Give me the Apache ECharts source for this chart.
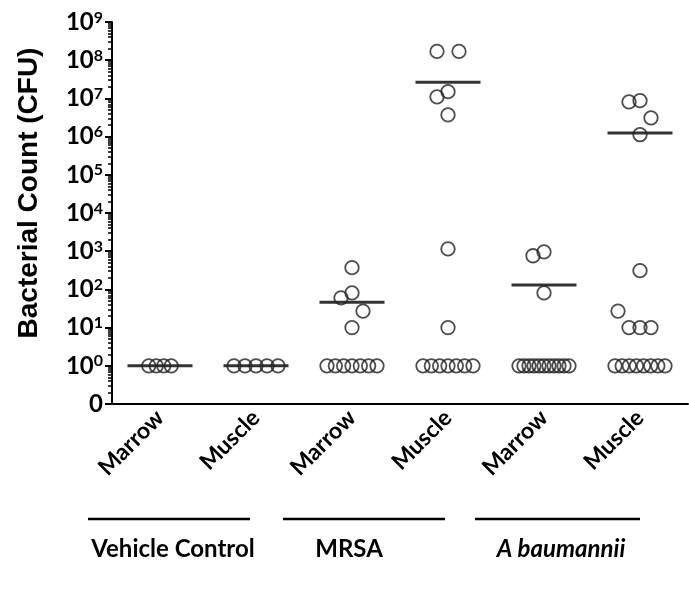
<!DOCTYPE html>
<html><head><meta charset="utf-8">
<script src="https://cdn.jsdelivr.net/npm/echarts@6/dist/echarts.min.js"></script>
<style>html,body{margin:0;padding:0;background:#fff}#c{width:689px;height:590px}</style>
</head><body><div id="c"></div>
<script>
// ---- data ----
const categories = ['Marrow', 'Muscle', 'Marrow', 'Muscle', 'Marrow', 'Muscle'];
const groupNames = ['Vehicle Control', 'MRSA', 'A baumannii'];
const vcMarrow = [1, 1, 1, 1];
const vcMuscle = [1, 1, 1, 1, 1];
const mrsaMarrow = [370, 81, 60, 27, 10, 1, 1, 1, 1, 1, 1, 1];
const mrsaMuscle = [1.7e8, 1.7e8, 1.5e7, 1.1e7, 3.7e6, 1150, 10, 1, 1, 1, 1, 1, 1, 1];
const abMarrow = [960, 760, 81, 1, 1, 1, 1, 1, 1, 1, 1, 1, 1, 1];
const abMuscle = [8.7e6, 8.1e6, 3.1e6, 1.12e6, 310, 27, 10, 10, 10, 1, 1, 1, 1, 1, 1, 1, 1];
const yTickExponents = [-1, 0, 1, 2, 3, 4, 5, 6, 7, 8, 9]; // -1 is labelled "0"
const columns = [vcMarrow, vcMuscle, mrsaMarrow, mrsaMuscle, abMarrow, abMuscle];

const toLog = v => v > 0 ? Math.log10(v) : -1;
const minorTicks = [];
for (let d = -1; d < 9; d++) for (let k = 2; k <= 9; k++) minorTicks.push(d + Math.log10(k));

const FONT = 'Lato';
const chart = echarts.init(document.getElementById('c'), null, {renderer: 'canvas'});

function buildOption(offsets) {
  const pts = [], means = [];
  columns.forEach((col, ci) => {
    col.forEach((v, i) => pts.push({value: [ci, toLog(v)], symbolOffset: [offsets ? offsets[ci][i] : 0, 0]}));
    const m = col.reduce((a, b) => a + b, 0) / col.length;
    means.push([ci, toLog(m)]);
  });
  return {
    animation: false,
    backgroundColor: '#fff',
    grid: {left: 112, right: 1, top: 22, bottom: 186, containLabel: false},
    xAxis: {
      type: 'category', data: categories, boundaryGap: true,
      axisLine: {onZero: false, lineStyle: {color: '#000', width: 2}},
      axisTick: {alignWithLabel: true, length: 9, lineStyle: {color: '#000', width: 2}},
      axisLabel: {rotate: 45, margin: 10, color: '#000', fontFamily: FONT, fontWeight: 'bold', fontSize: 23, interval: 0},
      splitLine: {show: false}
    },
    yAxis: [{
      type: 'value', min: -1, max: 9, interval: 1,
      axisLine: {show: true, onZero: false, lineStyle: {color: '#000', width: 2}},
      axisTick: {show: true, length: 7, lineStyle: {color: '#000', width: 2}},
      splitLine: {show: false},
      axisLabel: {
        margin: 9, color: '#000',
        formatter: v => { const e = Math.round(v); return yTickExponents.indexOf(e) < 0 ? '' : (e === -1 ? '{z|0}' : '{b|10}{s|' + e + '}'); },
        rich: {
          b: {fontFamily: FONT, fontWeight: 'bold', fontSize: 24, color: '#000', lineHeight: 25},
          z: {fontFamily: FONT, fontWeight: 'bold', fontSize: 24, color: '#000', lineHeight: 25},
          s: {fontFamily: FONT, fontWeight: 'bold', fontSize: 16, color: '#000', verticalAlign: 'top', lineHeight: 25}
        }
      }
    }, {
      type: 'value', min: -1, max: 9, position: 'left',
      axisLine: {show: false, onZero: false}, splitLine: {show: false}, axisLabel: {show: false},
      axisTick: {show: true, customValues: minorTicks, length: 4, lineStyle: {color: '#000', width: 1.5}}
    }],
    series: [{
      type: 'scatter', yAxisIndex: 0, data: pts, symbol: 'circle', symbolSize: 13.5,
      itemStyle: {color: 'rgba(255,255,255,0)', borderColor: '#222', borderWidth: 1.8},
      z: 3
    }, {
      type: 'scatter', yAxisIndex: 0, data: means, symbol: 'rect', symbolSize: [65, 3],
      itemStyle: {color: '#000'}, z: 2
    }],
    graphic: [
      {type: 'line', shape: {x1: 88, y1: 519, x2: 250, y2: 519}, style: {stroke: '#000', lineWidth: 2.5}},
      {type: 'line', shape: {x1: 283, y1: 519, x2: 445, y2: 519}, style: {stroke: '#000', lineWidth: 2.5}},
      {type: 'line', shape: {x1: 475, y1: 519, x2: 640, y2: 519}, style: {stroke: '#000', lineWidth: 2.5}},
      {type: 'text', x: 173, y: 549, style: {text: groupNames[0], fill: '#000', font: 'bold 24px ' + FONT, textAlign: 'center', textVerticalAlign: 'middle'}},
      {type: 'text', x: 349, y: 549, style: {text: groupNames[1], fill: '#000', font: 'bold 24px ' + FONT, textAlign: 'center', textVerticalAlign: 'middle'}},
      {type: 'text', x: 561, y: 549, style: {text: groupNames[2], fill: '#000', font: 'italic bold 24px ' + FONT, textAlign: 'center', textVerticalAlign: 'middle'}},
      {type: 'text', x: 29, y: 193, rotation: Math.PI / 2, style: {text: 'Bacterial Count (CFU)', fill: '#000', font: 'bold 28px "Liberation Sans"', textAlign: 'center', textVerticalAlign: 'middle'}}
    ]
  };
}

chart.setOption(buildOption(null));

// beeswarm-style horizontal spreading computed from the chart's own pixel scale
function swarm(vals) {
  const yPx = vals.map(v => chart.convertToPixel({gridIndex: 0}, [0, toLog(v)])[1]);
  const n = vals.length, dx = new Array(n).fill(null), S = 11, DY = 20;
  const groups = {};
  vals.forEach((v, i) => { (groups[v] = groups[v] || []).push(i); });
  const placed = [];
  Object.values(groups).forEach(idx => {
    if (idx.length > 1) {
      const k = idx.length;
      const sp = k === 4 ? 7.5 : Math.min(Math.max(S, 2 * S / (k - 1)), 50 / (k - 1));
      idx.forEach((i, j) => { dx[i] = (j - (k - 1) / 2) * sp; placed.push(i); });
    }
  });
  const singles = vals.map((v, i) => i).filter(i => dx[i] === null).sort((a, b) => vals[b] - vals[a]);
  const cands = [0, -S, S, -2 * S, 2 * S];
  singles.forEach(i => {
    for (const c of cands) {
      if (placed.every(j => Math.abs(dx[j] - c) >= S * 0.9 || Math.abs(yPx[j] - yPx[i]) >= DY)) { dx[i] = c; break; }
    }
    if (dx[i] === null) dx[i] = 0;
    placed.push(i);
  });
  return dx;
}
chart.setOption(buildOption(columns.map(swarm)));
</script></body></html>
